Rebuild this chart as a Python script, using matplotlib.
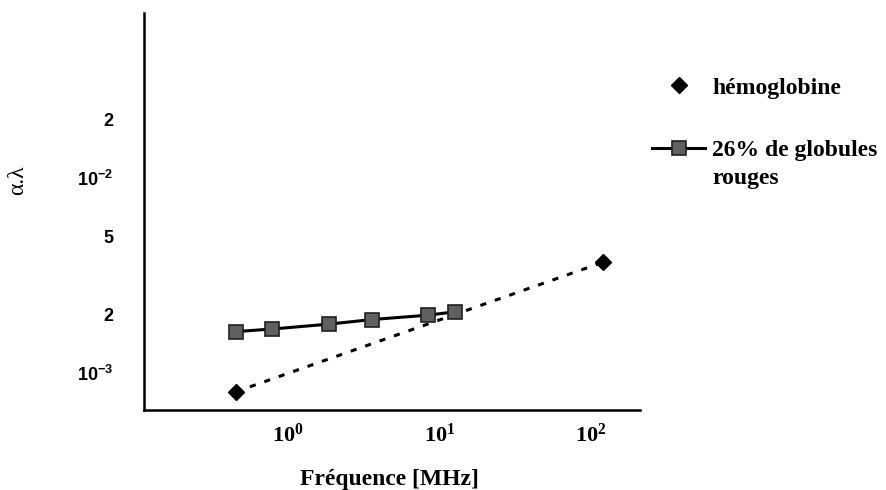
import matplotlib
matplotlib.use("Agg")
import matplotlib.pyplot as plt
from matplotlib.lines import Line2D

# valeurs
freq_hb = [0.45, 120]
alpha_hb = [8.0e-4, 3.7e-3]
freq_gr = [0.45, 0.78, 1.85, 3.6, 8.4, 12.7]
alpha_gr = [1.63e-3, 1.68e-3, 1.78e-3, 1.88e-3, 1.98e-3, 2.06e-3]

xticks = [1, 10, 100]
xticklabels = [r'$\mathbf{10^{0}}$', r'$\mathbf{10^{1}}$', r'$\mathbf{10^{2}}$']
yticks = [1e-3, 2e-3, 5e-3, 1e-2, 2e-2]
yticklabels = [r'$\mathrm{10^{-3}}$', '2', '5', r'$\mathrm{10^{-2}}$', '2']

label_hb = 'hémoglobine'
label_gr = '26% de globules'

plt.rcParams['mathtext.fontset'] = 'custom'
plt.rcParams['mathtext.rm'] = 'Liberation Sans:bold'
plt.rcParams['mathtext.bf'] = 'Liberation Serif:bold'

sq_face = '#606060'
sq_edge = '#202020'

fig = plt.figure(figsize=(8.86, 4.9), dpi=100)
ax = fig.add_axes([0.1625, 0.1633, 0.5598, 0.8102])

ax.plot(freq_hb, alpha_hb, color='black', lw=2.2, linestyle=(0, (2.0, 3.0)),
        marker='D', markersize=8, markerfacecolor='black', zorder=2)
ax.plot(freq_gr, alpha_gr, color='black', lw=2.2, marker='s', markersize=10.5,
        markerfacecolor=sq_face, markeredgecolor=sq_edge, markeredgewidth=1.2,
        zorder=3)

ax.set_xscale('log')
ax.set_yscale('log')
ax.set_xlim(0.112, 210)
ax.set_ylim(6.46e-4, 0.0702)

ax.set_xticks(xticks)
ax.set_xticklabels(xticklabels)
ax.set_yticks(yticks)
ax.set_yticklabels(yticklabels)
ax.minorticks_off()
ax.tick_params(axis='both', length=0)
ax.tick_params(axis='x', pad=9, labelsize=16)
ax.tick_params(axis='y', pad=22, labelsize=13)
for t in ax.get_yticklabels():
    t.set_fontfamily('Liberation Sans')
    t.set_fontweight('bold')

for s in ['top', 'right']:
    ax.spines[s].set_visible(False)
for s in ['left', 'bottom']:
    ax.spines[s].set_linewidth(1.8)

fig.text(18 / 886, 1 - 180 / 490, 'α.λ', rotation=90, ha='center', va='center',
         fontsize=17, family='Liberation Serif')
fig.text(389.5 / 886, 5 / 490, 'Fréquence [MHz]', ha='center', va='baseline',
         fontsize=17, family='Liberation Serif', fontweight='bold')

h_hb = Line2D([], [], color='black', linestyle='none', marker='D', markersize=8)
h_gr = Line2D([], [], color='black', lw=2.2, marker='s', markersize=10.5,
              markerfacecolor=sq_face, markeredgecolor=sq_edge, markeredgewidth=1.2)
leg = ax.legend([h_hb, h_gr], [label_hb, label_gr], loc='upper left',
                bbox_to_anchor=(652 / 886, 1 - 77 / 490), bbox_transform=fig.transFigure,
                frameon=False, borderpad=0, borderaxespad=0, handlelength=2.25,
                handletextpad=0.3, labelspacing=1.75,
                prop={'family': 'Liberation Serif', 'weight': 'bold', 'size': 17})
fig.text(712 / 886, 1 - 178 / 490, 'rouges', ha='left', va='center',
         fontsize=17, family='Liberation Serif', fontweight='bold')

fig.savefig('out.png', dpi=100)
